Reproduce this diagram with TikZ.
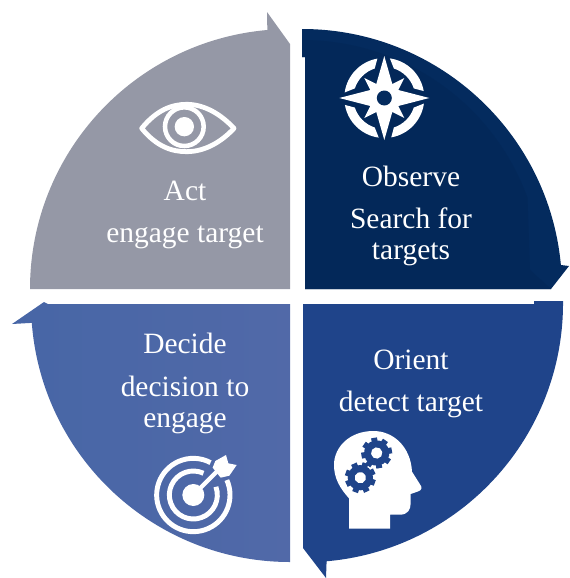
\documentclass[tikz,border=0pt]{standalone}
\usepackage{fontspec}
\setmainfont{Liberation Serif}
\definecolor{cgray}{HTML}{9598A6}
\definecolor{cdark}{HTML}{042B5E}
\definecolor{cdarkb}{HTML}{032859}
\definecolor{corient}{HTML}{1F448A}
\definecolor{cdecA}{HTML}{4766A6}
\definecolor{cdecB}{HTML}{5169A8}
\tikzset{
  lbl/.style={text=white,font=\fontsize{22.1pt}{24pt}\selectfont,inner sep=0pt,anchor=base},
  icon/.style={fill=white,draw=none}
}
\begin{document}
\begin{tikzpicture}[x=0.75pt,y=-0.75pt]
\useasboundingbox (0,0) rectangle (569,578);
% quadrants
\fill[cgray] (30,289) arc[start angle=180,end angle=265,radius=260] -- (267,12) -- (290,44) -- (290,289) -- cycle;
\fill[cdark] (305,289) -- (305,57) -- (302,57) -- (302,29) arc[start angle=-90,end angle=-5.3,radius=260] -- (569,266) -- (551,289) -- cycle;
\fill[cdarkb] (305,289) -- (305,57) -- (302,57) -- (302,40) arc[start angle=-90,end angle=-20,radius=240] -- (530,270) -- (551,289) -- cycle;
\fill[corient] (303,304) -- (534,304) -- (534,301) -- (563,301) arc[start angle=-0.5,end angle=85,radius=259] -- (326,578) -- (303,548) -- cycle;
\shade[left color=cdecA,right color=cdecB] (290,304) -- (290,562) arc[start angle=90,end angle=175.6,radius=259] -- (12,324) -- (44,302) -- (48,304) -- cycle;
% labels
\node[lbl] (act) at (185,200) {Act};
\node[lbl] (acts) at (185,242) {engage target};
\node[lbl] (obs) at (411,186) {Observe};
\node[lbl] (obss) at (411,228) {Search for};
\node[lbl] (obst) at (411,259) {targets};
\node[lbl] (ori) at (411,369) {Orient};
\node[lbl] (oris) at (411,411) {detect target};
\node[lbl] (dec) at (185,353) {Decide};
\node[lbl] (decs) at (185,396) {decision to};
\node[lbl] (dect) at (185,427) {engage};
% compass
\begin{scope}[shift={(384.3,98)}]
  \foreach \a in {0,90,180,270}{
    \fill[white] (\a+8:40) arc[start angle=\a+8,end angle=\a+80,radius=40] -- (\a+72:31) arc[start angle=\a+72,end angle=\a+18,radius=31] -- cycle;
  }
  \fill[white] (0,-42) -- (8,-14) -- (20,-20) -- (14,-8) -- (45,0) -- (14,8) -- (20,20) -- (8,14) -- (0,42) -- (-8,14) -- (-20,20) -- (-14,8) -- (-45,0) -- (-14,-8) -- (-20,-20) -- (-8,-14) -- cycle;
  \fill[cdark] (0,0) circle[radius=7.5];
\end{scope}
% eye
\begin{scope}[shift={(125,90)},x=0.25pt,y=-0.25pt]
  \draw[white,line width=3.6pt,line join=round] (50,115) .. controls (95,60) and (140,43) .. (185,43) .. controls (240,43) and (290,75) .. (327,115) .. controls (290,155) and (240,185) .. (185,185) .. controls (140,185) and (95,170) .. (50,115) -- cycle;
  \draw[white,line width=3.4pt] (178,110) circle[radius=58];
  \fill[white] (178,110) circle[radius=29];
\end{scope}
% head
\begin{scope}[shift={(320,420)},x=0.25pt,y=-0.25pt]
  \fill[white] (87,326) -- (210,326) -- (210,284) -- (240,284) .. controls (262,284) and (272,270) .. (272,250) -- (272,222) -- (295,214) .. controls (306,210) and (307,202) .. (300,193) -- (276,155) .. controls (272,80) and (220,33) .. (160,33) .. controls (90,33) and (42,80) .. (42,135) .. controls (42,175) and (60,205) .. (87,235) -- cycle;
  \foreach \cx/\cy/\rot in {170/99/10,121/173/25}{
    \begin{scope}[shift={(\cx,\cy)},rotate=\rot]
      \foreach \a in {0,45,...,315}{
        \fill[corient] (\a-15:34) -- (\a-11:47) -- (\a+11:47) -- (\a+15:34) -- cycle;
      }
      \fill[corient] (0,0) circle[radius=38];
      \fill[white] (0,0) circle[radius=17];
    \end{scope}
  }
\end{scope}
% target
\begin{scope}[shift={(140,445)},x=0.25pt,y=-0.25pt]
  \draw[white,line width=3.7pt] (160,150) ++(-24:110) arc[start angle=-24,end angle=298,radius=110];
  \draw[white,line width=3.7pt] (160,150) ++(-20:72) arc[start angle=-20,end angle=295,radius=72];
  \fill[white] (160,150) circle[radius=33];
  \draw[white,line width=3.2pt] (160,150) -- (235,75);
  \fill[white] (218,68) -- (226,48) -- (258,30) -- (265,55) -- (290,60) -- (268,92) -- (242,98) -- cycle;
\end{scope}
\end{tikzpicture}
\end{document}
